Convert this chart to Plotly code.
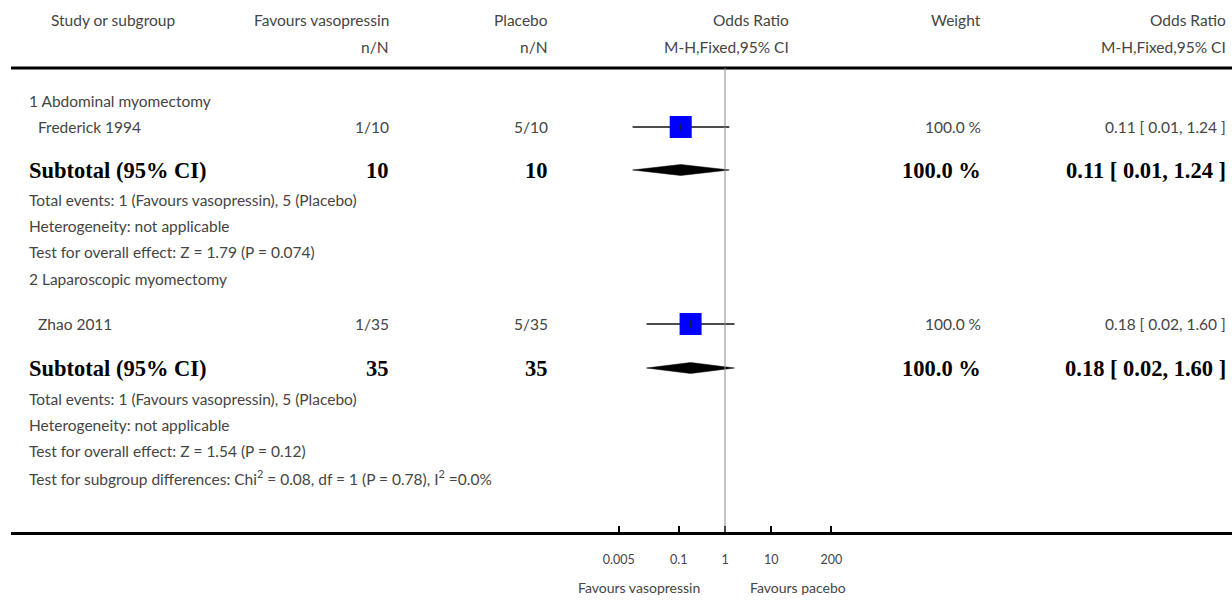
import plotly.graph_objects as go

# ---------------- data ----------------
col_headers = ["Study or subgroup", "Favours vasopressin", "Placebo", "Odds Ratio", "Weight", "Odds Ratio"]
col_subheaders = ["", "n/N", "n/N", "M-H,Fixed,95% CI", "", "M-H,Fixed,95% CI"]

subgroups = ["1 Abdominal myomectomy", "2 Laparoscopic myomectomy"]
studies = ["Frederick 1994", "Zhao 2011"]
vaso_nN = ["1/10", "1/35"]
placebo_nN = ["5/10", "5/35"]
study_or = [0.11, 0.18]
study_lo = [0.01, 0.02]
study_hi = [1.24, 1.60]
study_weight = ["100.0 %", "100.0 %"]
study_ci_text = ["0.11 [ 0.01, 1.24 ]", "0.18 [ 0.02, 1.60 ]"]

sub_vaso_N = ["10", "35"]
sub_placebo_N = ["10", "35"]
sub_or = [0.11, 0.18]
sub_lo = [0.01, 0.02]
sub_hi = [1.24, 1.60]
sub_weight = ["100.0 %", "100.0 %"]
sub_ci_text = ["0.11 [ 0.01, 1.24 ]", "0.18 [ 0.02, 1.60 ]"]

sub_notes = [
    ["Total events: 1 (Favours vasopressin), 5 (Placebo)",
     "Heterogeneity: not applicable",
     "Test for overall effect: Z = 1.79 (P = 0.074)"],
    ["Total events: 1 (Favours vasopressin), 5 (Placebo)",
     "Heterogeneity: not applicable",
     "Test for overall effect: Z = 1.54 (P = 0.12)"],
]
overall_note = "Test for subgroup differences: Chi<sup>2</sup> = 0.08, df = 1 (P = 0.78), I<sup>2</sup> =0.0%"

tick_vals = [0.005, 0.1, 1, 10, 200]
tick_text = ["0.005", "0.1", "1", "10", "200"]
favours_left = "Favours vasopressin"
favours_right = "Favours pacebo"

# ---------------- layout (pixel rows / columns) ----------------
W, H = 1232, 600
AXIS_Y = 532
PX_PER_DEC = 46.2
X_ONE = 725
LEFT = 11

sub_title_y = [101, 279]
study_y = [127, 324]
subtotal_y = [170, 368]
notes_y = [[200, 226, 252], [399, 425, 451]]
overall_y = 477

col_right = [None, 391, 550, 791, 983, 1228]

FONT = "Lato, 'Open Sans', sans-serif"
TXT = "#454545"
BFONT = "'Liberation Serif', 'Times New Roman', serif"
FS = 15.5
BFS = 22.5

fig = go.Figure()

def px(xp):
    return xp / W

def py(yp):
    return (AXIS_Y - yp) / AXIS_Y

ann = []
def text(x, y, s, anchor="left", size=FS, bold=False, color=TXT):
    ann.append(dict(x=px(x), y=py(y), xref="paper", yref="paper", text=s, showarrow=False,
                    xanchor=anchor, yanchor="middle",
                    font=dict(family=BFONT if bold else FONT, size=size,
                              color="#000" if bold else color,
                              weight="bold" if bold else "normal")))

# headers
text(49, 20, col_headers[0])
for i in range(1, 6):
    text(col_right[i], 20, col_headers[i], anchor="right")
    if col_subheaders[i]:
        text(col_right[i], 47, col_subheaders[i], anchor="right")

for g in range(2):
    text(27, sub_title_y[g], subgroups[g])
    yy = study_y[g]
    text(36, yy, studies[g])
    text(col_right[1], yy, vaso_nN[g], anchor="right")
    text(col_right[2], yy, placebo_nN[g], anchor="right")
    text(col_right[4], yy, study_weight[g], anchor="right")
    text(col_right[5], yy, study_ci_text[g], anchor="right")
    ys = subtotal_y[g]
    text(27, ys, "Subtotal (95% CI)", bold=True, size=BFS)
    text(col_right[1], ys, sub_vaso_N[g], anchor="right", bold=True, size=BFS)
    text(col_right[2], ys, sub_placebo_N[g], anchor="right", bold=True, size=BFS)
    text(col_right[4], ys, sub_weight[g], anchor="right", bold=True, size=BFS)
    text(col_right[5], ys, sub_ci_text[g], anchor="right", bold=True, size=BFS)
    for k, note in enumerate(sub_notes[g]):
        text(27, notes_y[g][k], note)
text(27, overall_y, overall_note)

text(X_ONE - 23, 588, favours_left, anchor="right", size=14)
text(X_ONE + 23, 588, favours_right, anchor="left", size=14)

for g in range(2):
    fig.add_trace(go.Scatter(x=[study_lo[g], study_hi[g]], y=[study_y[g], study_y[g]],
                             mode="lines", line=dict(color="#111", width=1.5),
                             hoverinfo="skip", showlegend=False))
    fig.add_trace(go.Scatter(x=[study_or[g]], y=[study_y[g]], mode="markers",
                             marker=dict(symbol="square", size=22, color="#0000ff",
                                         line=dict(width=0)),
                             showlegend=False))
    fig.add_trace(go.Scatter(x=[study_or[g]], y=[study_y[g]], mode="markers",
                             marker=dict(symbol="line-ns", size=5,
                                         line=dict(color="#222", width=1)),
                             showlegend=False, hoverinfo="skip"))
    yc = subtotal_y[g]
    fig.add_trace(go.Scatter(x=[sub_lo[g], sub_or[g], sub_hi[g], sub_or[g], sub_lo[g]],
                             y=[yc, yc - 5.5, yc, yc + 5.5, yc],
                             mode="lines", fill="toself", fillcolor="#000",
                             line=dict(color="#000", width=0.5),
                             showlegend=False, hoverinfo="skip"))

lo_log = (LEFT - X_ONE) / PX_PER_DEC
hi_log = (W - X_ONE) / PX_PER_DEC

shapes = [
    dict(type="line", xref="paper", yref="y", x0=px(LEFT), x1=1, y0=68, y1=68,
         line=dict(color="#000", width=3)),
    dict(type="line", xref="x", yref="y", x0=1, x1=1, y0=68, y1=AXIS_Y,
         line=dict(color="#888", width=1)),
]

fig.update_layout(
    width=W, height=H,
    margin=dict(l=0, r=0, t=0, b=H - AXIS_Y, pad=0),
    paper_bgcolor="white", plot_bgcolor="white",
    annotations=ann, shapes=shapes,
    xaxis=dict(type="log", domain=[px(LEFT), 1], range=[lo_log, hi_log],
               tickvals=tick_vals, ticktext=tick_text,
               ticks="inside", ticklen=6, tickwidth=2, tickcolor="#000",
               showline=True, linecolor="#000", linewidth=3,
               showgrid=False, zeroline=False,
               tickfont=dict(family=FONT, size=12.5, color=TXT),
               ticklabelstandoff=14),
    yaxis=dict(range=[AXIS_Y, 0], visible=False, showgrid=False, zeroline=False),
    showlegend=False,
)

fig.write_html("out.html", config={"displayModeBar": False},
               post_script="document.body.style.margin='0px';document.body.style.overflow='hidden';")
